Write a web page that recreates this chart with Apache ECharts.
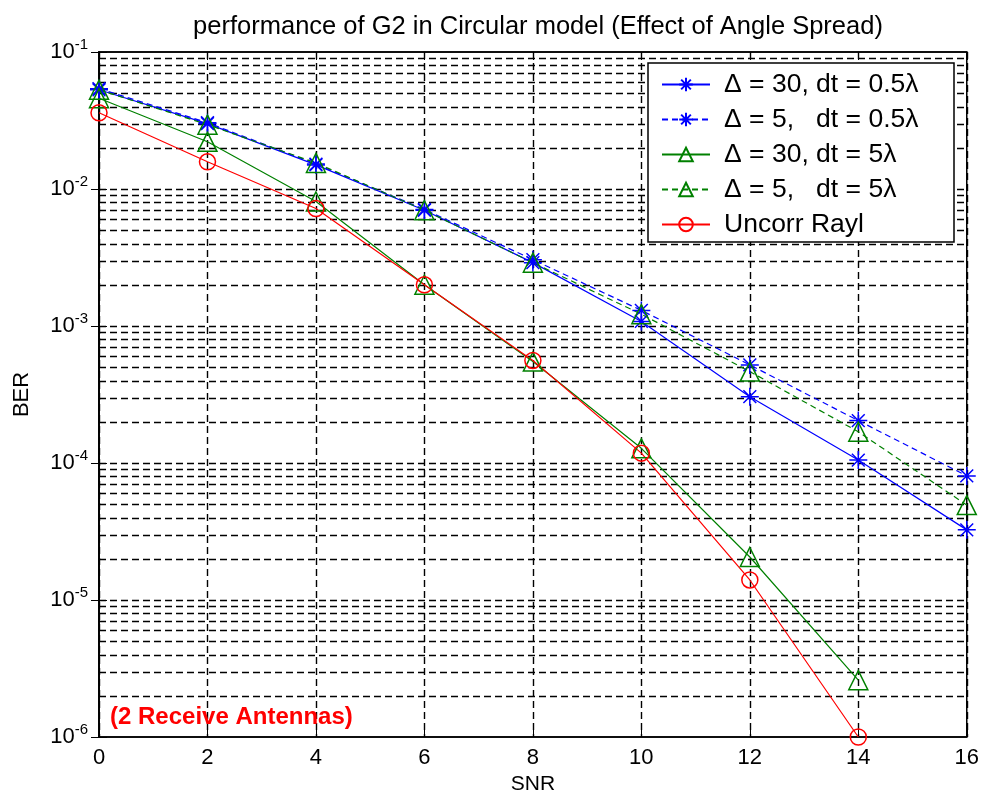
<!DOCTYPE html>
<html>
<head>
<meta charset="utf-8">
<style>
  html, body { margin: 0; padding: 0; background: #fff; }
  #chart { width: 982px; height: 804px; }
</style>
<script src="https://cdn.jsdelivr.net/npm/echarts@6/dist/echarts.min.js"></script>
</head>
<body>
<div id="chart"></div>
<script>
// SNR points (dB)
const snr = [0, 2, 4, 6, 8, 10, 12, 14, 16];

// BER curves
const berD30Dt05 = [0.053, 0.0300, 0.0150, 0.0070, 0.0029, 0.00108, 0.000305, 0.000105, 0.0000325];
const berD5Dt05  = [0.054, 0.0305, 0.0152, 0.0071, 0.00305, 0.00130, 0.00052, 0.000204, 0.0000805];
const berD30Dt5  = [0.046, 0.0221, 0.0081, 0.00200, 0.00055, 0.000128, 0.0000206, 0.0000026];
const berD5Dt5   = [0.053, 0.0295, 0.0155, 0.0070, 0.0029, 0.00122, 0.000465, 0.000169, 0.0000493];
const berUncorr  = [0.036, 0.0158, 0.0072, 0.00200, 0.00056, 0.000118, 0.0000140, 0.0000010];

const seriesNames = [
  'Δ = 30, dt = 0.5λ',
  'Δ = 5,   dt = 0.5λ',
  'Δ = 30, dt = 5λ',
  'Δ = 5,   dt = 5λ',
  'Uncorr Rayl'
];

const FONT = '"Liberation Sans", Arial, sans-serif';
const BLUE = '#0000ff', GREEN = '#008000', RED = '#ff0000';
const STAR = 'path://M8,0L8,16M0,8L16,8M2.3,2.3L13.7,13.7M2.3,13.7L13.7,2.3';

// log grid lines: 1..9 x 10^e inside each decade (the 1e-6 line is the frame)
const logGrid = [];
for (let e = -6; e <= -2; e++) {
  for (let k = 1; k <= 9; k++) {
    if (e === -6 && k === 1) continue;
    logGrid.push(k * Math.pow(10, e));
  }
}

function pairs(ys) { return ys.map((y, i) => [snr[i], y]); }

const gridDash = { color: '#000', width: 1.4, type: [7, 4] };

function curve(name, ys, color, dashed, symbol, size) {
  return {
    name: name,
    type: 'line',
    data: pairs(ys),
    color: color,
    symbol: symbol,
    symbolSize: size,
    showAllSymbol: true,
    lineStyle: { color: color, width: 1.2, type: dashed ? [6, 4] : 'solid' },
    itemStyle: { color: 'rgba(0,0,0,0)', borderColor: color, borderWidth: 1.5 },
    emphasis: { disabled: true },
    z: 3
  };
}

const chart = echarts.init(document.getElementById('chart'), null, { renderer: 'canvas' });

chart.setOption({
  animation: false,
  backgroundColor: '#fff',
  title: {
    text: 'performance of G2 in Circular model (Effect of Angle Spread)',
    left: 533, textAlign: 'center', top: 9,
    textStyle: { fontFamily: FONT, fontSize: 25.5, fontWeight: 'normal', color: '#000' }
  },
  grid: {
    left: 99, right: 14, top: 52, bottom: 67,
    show: true, borderColor: '#000', borderWidth: 1.5, backgroundColor: 'transparent'
  },
  xAxis: [{
    type: 'value', min: 0, max: 16, interval: 2,
    name: 'SNR', nameLocation: 'middle', nameGap: 36,
    nameTextStyle: { fontFamily: FONT, fontSize: 21, color: '#000' },
    axisLine: { show: true, lineStyle: { color: '#000', width: 1.5 } },
    axisTick: { show: true, inside: true, length: 8, lineStyle: { color: '#000' } },
    axisLabel: { fontFamily: FONT, fontSize: 22, color: '#000', margin: 10 },
    splitLine: { show: true, lineStyle: gridDash }
  }, {
    type: 'value', min: 0, max: 16, interval: 2, position: 'top',
    axisLine: { show: true, lineStyle: { color: '#000', width: 1.5 } },
    axisTick: { show: true, inside: true, length: 8, lineStyle: { color: '#000' } },
    axisLabel: { show: false }, splitLine: { show: false }
  }],
  yAxis: [{
    type: 'log', logBase: 10, min: 1e-6, max: 1e-1,
    name: 'BER', nameLocation: 'middle', nameGap: 66, nameRotate: 90,
    nameTextStyle: { fontFamily: FONT, fontSize: 22, color: '#000' },
    axisLine: { show: true, lineStyle: { color: '#000', width: 1.5 } },
    axisTick: { show: true, inside: true, length: 8, lineStyle: { color: '#000' } },
    axisLabel: {
      margin: 11,
      formatter: function (v) {
        const e = Math.round(Math.log10(v));
        return '{b|10}{e|' + e + '}';
      },
      rich: {
        b: { fontFamily: FONT, fontSize: 22, color: '#000', lineHeight: 30 },
        e: { fontFamily: FONT, fontSize: 15, color: '#000', lineHeight: 15, verticalAlign: 'top' }
      }
    },
    splitLine: { show: false }
  }, {
    type: 'log', logBase: 10, min: 1e-6, max: 1e-1, position: 'right',
    axisLine: { show: true, lineStyle: { color: '#000', width: 1.5 } },
    axisTick: { show: true, inside: true, length: 8, lineStyle: { color: '#000' } },
    axisLabel: { show: false }, splitLine: { show: false }
  }],
  legend: {
    data: seriesNames,
    orient: 'vertical',
    left: 661, top: 71,
    padding: 0,
    itemGap: 8,
    itemWidth: 48, itemHeight: 17,
    z: 60,
    textStyle: { fontFamily: FONT, fontSize: 26.5, color: '#000', lineHeight: 26, padding: [0, 0, 0, 9] }
  },
  graphic: [{
    type: 'rect', z: 50,
    shape: { x: 648, y: 63, width: 306, height: 179 },
    style: { fill: '#fff', stroke: '#000', lineWidth: 1.5 }
  }, {
    type: 'text', z: 50,
    x: 110, y: 717,
    style: {
      text: '(2 Receive Antennas)',
      fill: RED, font: 'bold 24px ' + FONT,
      textVerticalAlign: 'middle'
    }
  }],
  series: [
    {
      // dashed horizontal grid lines at the log positions, placed through the axes
      name: 'log-grid', type: 'custom', z: 1, silent: true,
      data: logGrid,
      encode: { y: 0 },
      renderItem: function (params, api) {
        const v = api.value(0);
        const p0 = api.coord([0, v]);
        const p1 = api.coord([16, v]);
        const y = Math.round(p0[1]) + 0.5;
        return {
          type: 'line',
          shape: { x1: p0[0], y1: y, x2: p1[0], y2: y },
          style: { stroke: '#000', lineWidth: 1.4, lineDash: [7, 4] }
        };
      }
    },
    curve(seriesNames[0], berD30Dt05, BLUE, false, STAR, 18),
    curve(seriesNames[1], berD5Dt05, BLUE, true, STAR, 18),
    curve(seriesNames[2], berD30Dt5, GREEN, false, 'triangle', 19),
    curve(seriesNames[3], berD5Dt5, GREEN, true, 'triangle', 19),
    curve(seriesNames[4], berUncorr, RED, false, 'circle', 16)
  ]
});
</script>
</body>
</html>
